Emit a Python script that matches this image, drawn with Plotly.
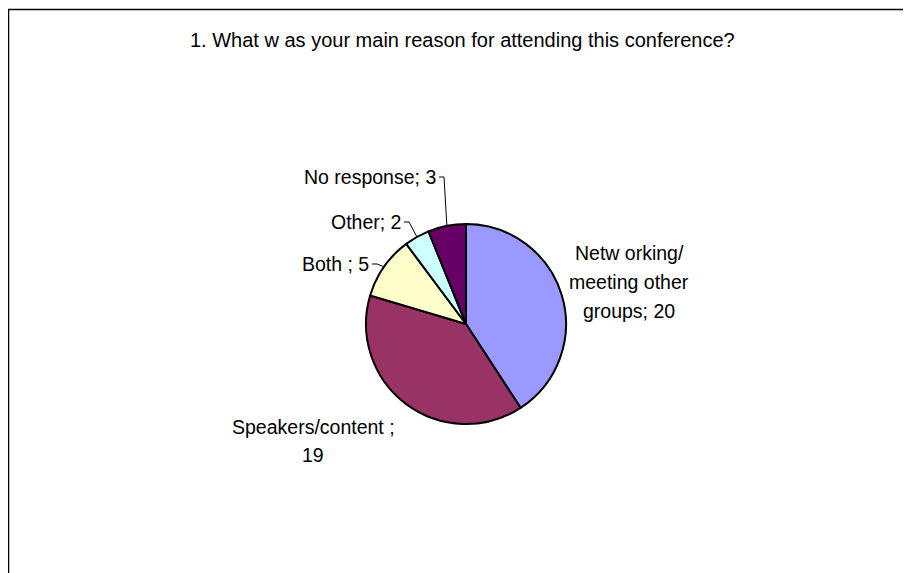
import math
import plotly.graph_objects as go

# ---- data ----
categories = ["Netw orking/ meeting other groups", "Speakers/content ", "Both ", "Other", "No response"]
values = [20, 19, 5, 2, 3]
colors = ["#9999FF", "#993366", "#FFFFCC", "#CCFFFF", "#660066"]
title_text = "1. What w as your main reason for attending this conference?"

# ---- layout (pixels, page coordinates; page body has 8px margin) ----
W, H = 911, 573
OFF = 8
cx, cy, R = 466, 324, 100

def px(x):
    return (x - OFF) / W

def py(y):
    return 1 - (y - OFF) / H

fig = go.Figure()
fig.add_trace(go.Pie(
    labels=categories,
    values=values,
    sort=False,
    direction="clockwise",
    rotation=0,
    marker=dict(colors=colors, line=dict(color="black", width=2)),
    textinfo="none",
    hoverinfo="label+value",
    showlegend=False,
    domain=dict(x=[px(cx - R), px(cx + R)], y=[py(cy + R), py(cy - R)]),
))

# label text lines built from data
def label_lines(i):
    cat, v = categories[i], values[i]
    if i == 0:
        return ["Netw orking/", "meeting other", "groups; %d" % v]
    if i == 1:
        return ["%s;" % cat, "%d" % v]
    return ["%s; %d" % (cat, v)]

# label placement (pixels): (x, y of first line, line spacing, xanchor, leader?)
placements = {
    0: (629, 253, 29, "center", False),
    1: (313, 427, 28, "center", False),
    2: (371, 264, 0, "right", True),
    3: (403, 222, 0, "right", True),
    4: (438, 177, 0, "right", True),
}

total = sum(values)
cum = 0
mids = []
for v in values:
    mids.append((cum + v / 2) / total * 2 * math.pi)
    cum += v

font = dict(family="Liberation Sans, Arial, sans-serif", size=19.5, color="black")

for i in range(len(values)):
    x, y, sp, anchor, leader = placements[i]
    for k, line in enumerate(label_lines(i)):
        fig.add_annotation(
            x=px(x), y=py(y + k * sp), xref="paper", yref="paper",
            text=line, showarrow=False,
            xanchor=anchor, yanchor="middle", align="center",
            font=font,
        )
    if leader:
        ex = cx + R * math.sin(mids[i])
        ey = cy - R * math.cos(mids[i])
        x0 = x + 1
        x1 = x + 6
        path = "M %f,%f L %f,%f L %f,%f" % (px(x0), py(y), px(x1), py(y), px(ex), py(ey))
        fig.add_shape(type="path", path=path, xref="paper", yref="paper",
                      line=dict(color="black", width=1))

# chart border
fig.add_shape(type="rect", xref="paper", yref="paper",
              x0=px(8.5), y0=py(600), x1=px(940), y1=py(9.5),
              line=dict(color="black", width=1.5), fillcolor="rgba(0,0,0,0)")

fig.add_annotation(
    x=px(462), y=py(40), xref="paper", yref="paper",
    text=title_text, showarrow=False, xanchor="center", yanchor="middle",
    font=dict(family="Liberation Sans, Arial, sans-serif", size=20, color="black"),
)

fig.update_layout(
    width=W, height=H, autosize=False,
    margin=dict(l=0, r=0, t=0, b=0),
    paper_bgcolor="white", plot_bgcolor="white",
)

fig.write_html("out.html")
